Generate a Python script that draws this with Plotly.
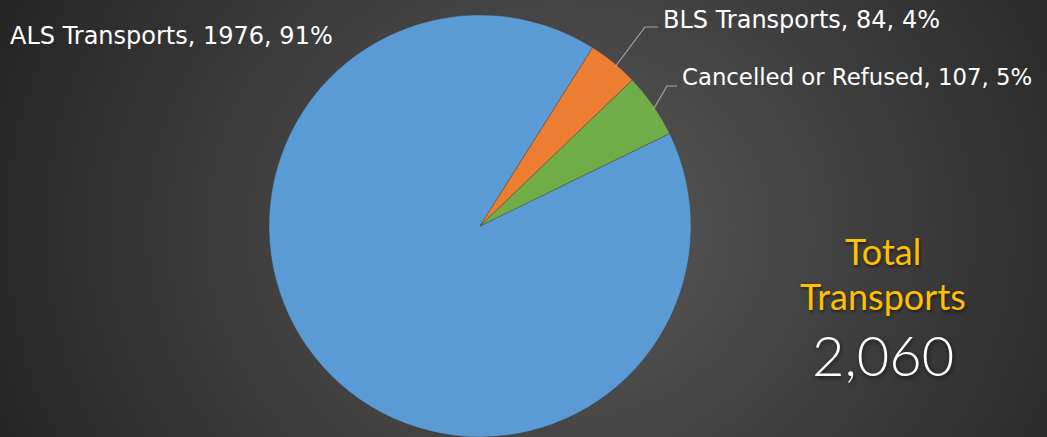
import base64, struct, zlib
import numpy as np
import plotly.graph_objects as go

# ---- data ----
categories = ["ALS Transports", "BLS Transports", "Cancelled or Refused"]
values = [1976, 84, 107]
colors = ["#5b9bd5", "#ed7d31", "#70ad47"]
total_label = ["Total", "Transports"]
total_value = "2,060"

W, H = 1047, 437


def px(x, y):
    return x / W, 1 - y / H


# ---- background radial gradient as PNG ----
def make_png(arr):
    h, w, _ = arr.shape
    raw = b"".join(b"\x00" + arr[i].tobytes() for i in range(h))
    def chunk(t, d):
        c = struct.pack(">I", len(d)) + t + d
        return c + struct.pack(">I", zlib.crc32(t + d) & 0xFFFFFFFF)
    return (b"\x89PNG\r\n\x1a\n" + chunk(b"IHDR", struct.pack(">IIBBBBB", w, h, 8, 2, 0, 0, 0))
            + chunk(b"IDAT", zlib.compress(raw, 9)) + chunk(b"IEND", b""))


yy, xx = np.mgrid[0:H, 0:W]
d = np.sqrt(((xx - 560) / 1.0) ** 2 + ((yy - 230) / 0.9) ** 2)
t = np.clip(d / 600.0, 0, 1)
c = (90 * (1 - t) + 38 * t).astype(np.uint8)
img = np.stack([c, c, c], axis=-1)
bg_uri = "data:image/png;base64," + base64.b64encode(make_png(img)).decode()

tot = sum(values)
pcts = [round(v / tot * 100) for v in values]
texts = [f"{c_}, {v}, {p}%" for c_, v, p in zip(categories, values, pcts)]

cx, cy, r = 480, 226, 211
fig = go.Figure(go.Pie(
    labels=categories, values=values, sort=False, direction="clockwise", rotation=64,
    marker=dict(colors=colors, line=dict(color="rgba(60,60,60,0.6)", width=0.6)),
    textinfo="none", hoverinfo="label+value+percent", showlegend=False,
    domain=dict(x=[(cx - r) / W, (cx + r) / W], y=[1 - (cy + r) / H, 1 - (cy - r) / H]),
))

annotations = []
label_pos = [(8, 36), (661, 20), (680, 77)]
label_sizes = [24, 24, 22.8]
for txt, (x, y), fs in zip(texts, label_pos, label_sizes):
    ax, ay = px(x, y)
    annotations.append(dict(x=ax, y=ay, xref="paper", yref="paper", text=txt, showarrow=False,
                            xanchor="left", yanchor="middle",
                            font=dict(family="DejaVu Sans, sans-serif", size=fs, color="white")))

gold_font = dict(family="Century Gothic, Lato, sans-serif", size=36, color="#ffc000",
                 shadow="1px 2px 3px rgba(0,0,0,0.5)")
for txt, y in zip(total_label, [251, 296]):
    ax, ay = px(883, y)
    annotations.append(dict(x=ax, y=ay, xref="paper", yref="paper", text=txt, showarrow=False,
                            xanchor="center", yanchor="middle", font=gold_font))
ax, ay = px(883, 354)
annotations.append(dict(x=ax, y=ay, xref="paper", yref="paper", text=total_value, showarrow=False,
                        xanchor="center", yanchor="middle",
                        font=dict(family="Century Gothic, Lato, sans-serif", size=56, color="white",
                                  weight=300, shadow="1px 2px 4px rgba(0,0,0,0.6)")))

shapes = []
leaders = [[(615, 67), (645, 27), (658, 27)], [(653, 110), (667, 86), (677, 86)]]
for pts in leaders:
    path = ""
    for i, (x, y) in enumerate(pts):
        X, Y = px(x, y)
        path += ("M" if i == 0 else "L") + f"{X},{Y} "
    shapes.append(dict(type="path", path=path, xref="paper", yref="paper",
                       line=dict(color="#a6a6a6", width=1.2)))

fig.update_layout(
    width=W, height=H, margin=dict(l=0, r=0, t=0, b=0),
    paper_bgcolor="#3a3a3a", plot_bgcolor="rgba(0,0,0,0)",
    images=[dict(source=bg_uri, xref="paper", yref="paper", x=0, y=1, sizex=1, sizey=1,
                 xanchor="left", yanchor="top", sizing="stretch", layer="below")],
    annotations=annotations, shapes=shapes,
)
fig.write_html("out.html", config={"displayModeBar": False},
               post_script="document.body.style.margin='0';document.body.style.overflow='hidden';")
